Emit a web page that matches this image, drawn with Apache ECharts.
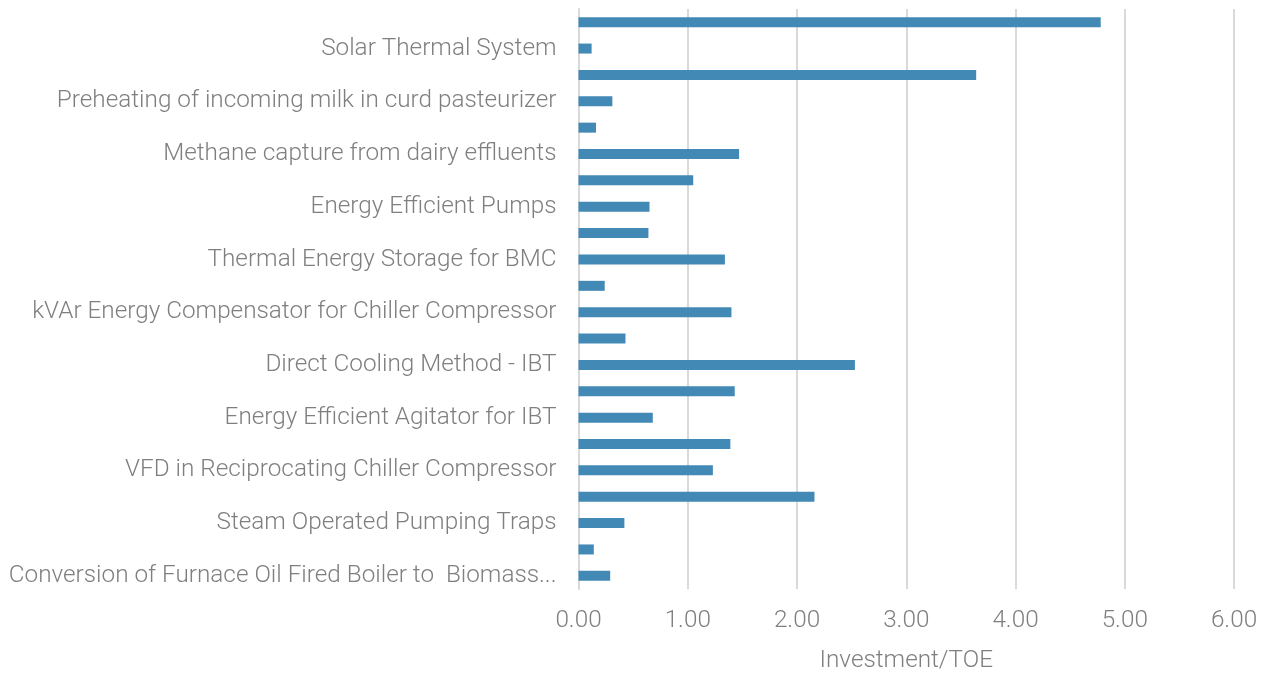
<!DOCTYPE html>
<html>
<head>
<meta charset="utf-8">
<title>Investment per TOE</title>
<script src="https://cdn.jsdelivr.net/npm/echarts@6/dist/echarts.min.js"></script>
<style>
  html, body { margin: 0; padding: 0; background: #ffffff; }
  #chart { width: 1276px; height: 675px; }
</style>
</head>
<body>
<div id="chart"></div>
<script>
// Measures, listed bottom to top; only every other one carries a label
const measures = [
  'Conversion of Furnace Oil Fired Boiler to  Biomass...',
  '',
  'Steam Operated Pumping Traps',
  '',
  'VFD in Reciprocating Chiller Compressor',
  '',
  'Energy Efficient Agitator for IBT',
  '',
  'Direct Cooling Method - IBT',
  '',
  'kVAr Energy Compensator for Chiller Compressor',
  '',
  'Thermal Energy Storage for BMC',
  '',
  'Energy Efficient Pumps',
  '',
  'Methane capture from dairy effluents',
  '',
  'Preheating of incoming milk in curd pasteurizer',
  '',
  'Solar Thermal System',
  ''
];

// Investment per tonne of oil equivalent saved
const investmentPerToe = [
  0.29, 0.14, 0.42, 2.16, 1.23, 1.39, 0.68, 1.43, 2.53, 0.43, 1.40,
  0.24, 1.34, 0.64, 0.65, 1.05, 1.47, 0.16, 0.31, 3.64, 0.12, 4.78
];

const xTicks = { min: 0, max: 6, interval: 1 };
const axisTitle = 'Investment/TOE';

const textColor = '#7f7f7f';
const gridColor = '#d9d9d9';
const fontFamily = 'Roboto, "Liberation Sans", sans-serif';
const fontSize = 24.3;

const chart = echarts.init(document.getElementById('chart'), null, { renderer: 'canvas' });

chart.setOption({
  animation: false,
  backgroundColor: '#ffffff',
  grid: { left: 578.5, right: 42, top: 9, bottom: 86, containLabel: false, outerBoundsMode: 'none' },
  xAxis: {
    type: 'value',
    min: xTicks.min,
    max: xTicks.max,
    interval: xTicks.interval,
    name: axisTitle,
    nameLocation: 'middle',
    nameGap: 60,
    nameTextStyle: { color: textColor, fontSize: fontSize, fontFamily: fontFamily, fontWeight: 300 },
    axisLine: { show: false },
    axisTick: { show: false },
    axisLabel: {
      color: textColor,
      fontSize: fontSize,
      fontFamily: fontFamily,
      fontWeight: 300,
      margin: 20,
      formatter: v => v.toFixed(2)
    },
    splitLine: { show: true, lineStyle: { color: gridColor, width: 2 } }
  },
  yAxis: {
    type: 'category',
    data: measures,
    axisLine: { show: true, lineStyle: { color: gridColor, width: 2 } },
    axisTick: { show: false },
    axisLabel: {
      interval: 0,
      color: textColor,
      fontSize: fontSize,
      fontFamily: fontFamily,
      fontWeight: 300,
      margin: 22,
      padding: [3, 0, 0, 0]
    },
    splitLine: { show: false }
  },
  series: [{
    type: 'bar',
    data: investmentPerToe,
    barWidth: 10,
    itemStyle: { color: '#4389b5' }
  }]
});
</script>
</body>
</html>
